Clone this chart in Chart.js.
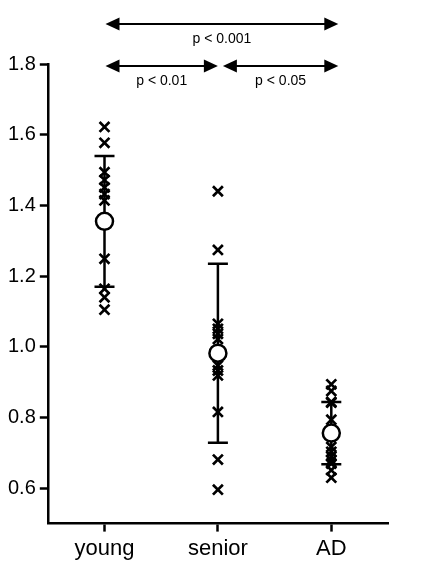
<!DOCTYPE html>
<html>
<head>
<meta charset="utf-8">
<script src="https://cdn.jsdelivr.net/npm/chart.js@4.4.1/dist/chart.umd.min.js"></script>
<style>
  body { margin: 0; background: #fff; }
  #wrap { width: 425px; height: 571px; }
</style>
</head>
<body>
<div id="wrap"><canvas id="myChart"></canvas></div>
<script>
// categories and values
const groups = ['young', 'senior', 'AD'];
const youngValues = [1.622, 1.577, 1.494, 1.472, 1.451, 1.432, 1.414, 1.249, 1.164, 1.140, 1.105];
const seniorValues = [1.440, 1.274, 1.065, 1.051, 1.037, 1.022, 0.947, 0.933, 0.919, 0.816, 0.681, 0.596];
const adValues = [0.894, 0.875, 0.844, 0.842, 0.794, 0.717, 0.703, 0.690, 0.679, 0.670, 0.651, 0.630];
const means = [1.355, 0.982, 0.756];
const sds = [0.185, 0.253, 0.088];
const yTicks = [0.6, 0.8, 1.0, 1.2, 1.4, 1.6, 1.8];

// significance brackets: from group index, to group index, label, row
const comparisons = [
  { from: 0, to: 2, label: 'p < 0.001', row: 0 },
  { from: 0, to: 1, label: 'p < 0.01', row: 1 },
  { from: 1, to: 2, label: 'p < 0.05', row: 1 }
];

const crossPoints = [];
[youngValues, seniorValues, adValues].forEach((vals, i) => {
  vals.forEach(v => crossPoints.push({ x: groups[i], y: v }));
});
const meanPoints = means.map((m, i) => ({ x: groups[i], y: m }));

// error bars (mean +/- sd) drawn under the points
const errorBars = {
  id: 'errorBars',
  beforeDatasetsDraw(chart) {
    const { ctx, scales: { x, y } } = chart;
    ctx.save();
    ctx.strokeStyle = '#000';
    ctx.lineWidth = 2.5;
    means.forEach((m, i) => {
      const px = x.getPixelForValue(i);
      const top = y.getPixelForValue(m + sds[i]);
      const bot = y.getPixelForValue(m - sds[i]);
      ctx.beginPath();
      ctx.moveTo(px, top); ctx.lineTo(px, bot);
      ctx.moveTo(px - 10, top); ctx.lineTo(px + 10, top);
      ctx.moveTo(px - 10, bot); ctx.lineTo(px + 10, bot);
      ctx.stroke();
    });
    ctx.restore();
  }
};

function arrowHead(ctx, x, y, dir) {
  ctx.beginPath();
  ctx.moveTo(x, y);
  ctx.lineTo(x - dir * 14, y - 6.5);
  ctx.lineTo(x - dir * 14, y + 6.5);
  ctx.closePath();
  ctx.fill();
}

// double-headed arrows with p-values above the plot
const sigArrows = {
  id: 'sigArrows',
  afterDraw(chart) {
    const { ctx, scales: { x, y } } = chart;
    const baseY = y.getPixelForValue(1.8) + 2;
    ctx.save();
    ctx.strokeStyle = '#000';
    ctx.fillStyle = '#000';
    ctx.lineWidth = 2;
    ctx.font = '14px "Liberation Sans", Arial, sans-serif';
    ctx.textAlign = 'center';
    ctx.textBaseline = 'middle';
    comparisons.forEach(c => {
      const ay = baseY - (c.row === 0 ? 42 : 0);
      const x1 = x.getPixelForValue(c.from) + (c.from === 0 ? 1 : 5);
      const x2 = x.getPixelForValue(c.to) + (c.to === 2 ? 7 : 0);
      ctx.beginPath();
      ctx.moveTo(x1 + 10, ay); ctx.lineTo(x2 - 10, ay);
      ctx.stroke();
      arrowHead(ctx, x1, ay, -1);
      arrowHead(ctx, x2, ay, 1);
      ctx.fillText(c.label, (x1 + x2) / 2, ay + 15);
    });
    ctx.restore();
  }
};

const ctx = document.getElementById('myChart');
new Chart(ctx, {
  type: 'line',
  data: {
    labels: groups,
    datasets: [
      {
        label: 'values',
        data: crossPoints,
        showLine: false,
        pointStyle: 'crossRot',
        pointRadius: 7,
        pointBorderWidth: 2.7,
        borderColor: '#000',
        backgroundColor: '#000',
        order: 2
      },
      {
        label: 'mean',
        data: meanPoints,
        showLine: false,
        pointStyle: 'circle',
        pointRadius: 8.5,
        pointBorderWidth: 2.5,
        borderColor: '#000',
        backgroundColor: '#fff',
        order: 1
      }
    ]
  },
  options: {
    responsive: true,
    maintainAspectRatio: false,
    animation: false,
    layout: { padding: { top: 64, right: 37, left: 4, bottom: 5 } },
    plugins: {
      legend: { display: false },
      tooltip: { enabled: false }
    },
    scales: {
      x: {
        type: 'category',
        offset: true,
        grid: { display: true, drawOnChartArea: false, offset: false, tickLength: 8, tickWidth: 2.5, tickColor: '#000' },
        border: { display: true, color: '#000', width: 2.5 },
        ticks: { color: '#000', padding: 4, font: { family: '"Liberation Sans", Arial, sans-serif', size: 22 } }
      },
      y: {
        min: 0.5,
        max: 1.8,
        afterBuildTicks: axis => { axis.ticks = yTicks.map(v => ({ value: v })); },
        grid: { display: true, drawOnChartArea: false, tickLength: 8, tickWidth: 2.5, tickColor: '#000' },
        border: { display: true, color: '#000', width: 2.5 },
        ticks: {
          color: '#000',
          padding: 4,
          font: { family: '"Liberation Sans", Arial, sans-serif', size: 20 },
          callback: v => v.toFixed(1)
        }
      }
    }
  },
  plugins: [errorBars, sigArrows]
});
</script>
</body>
</html>
